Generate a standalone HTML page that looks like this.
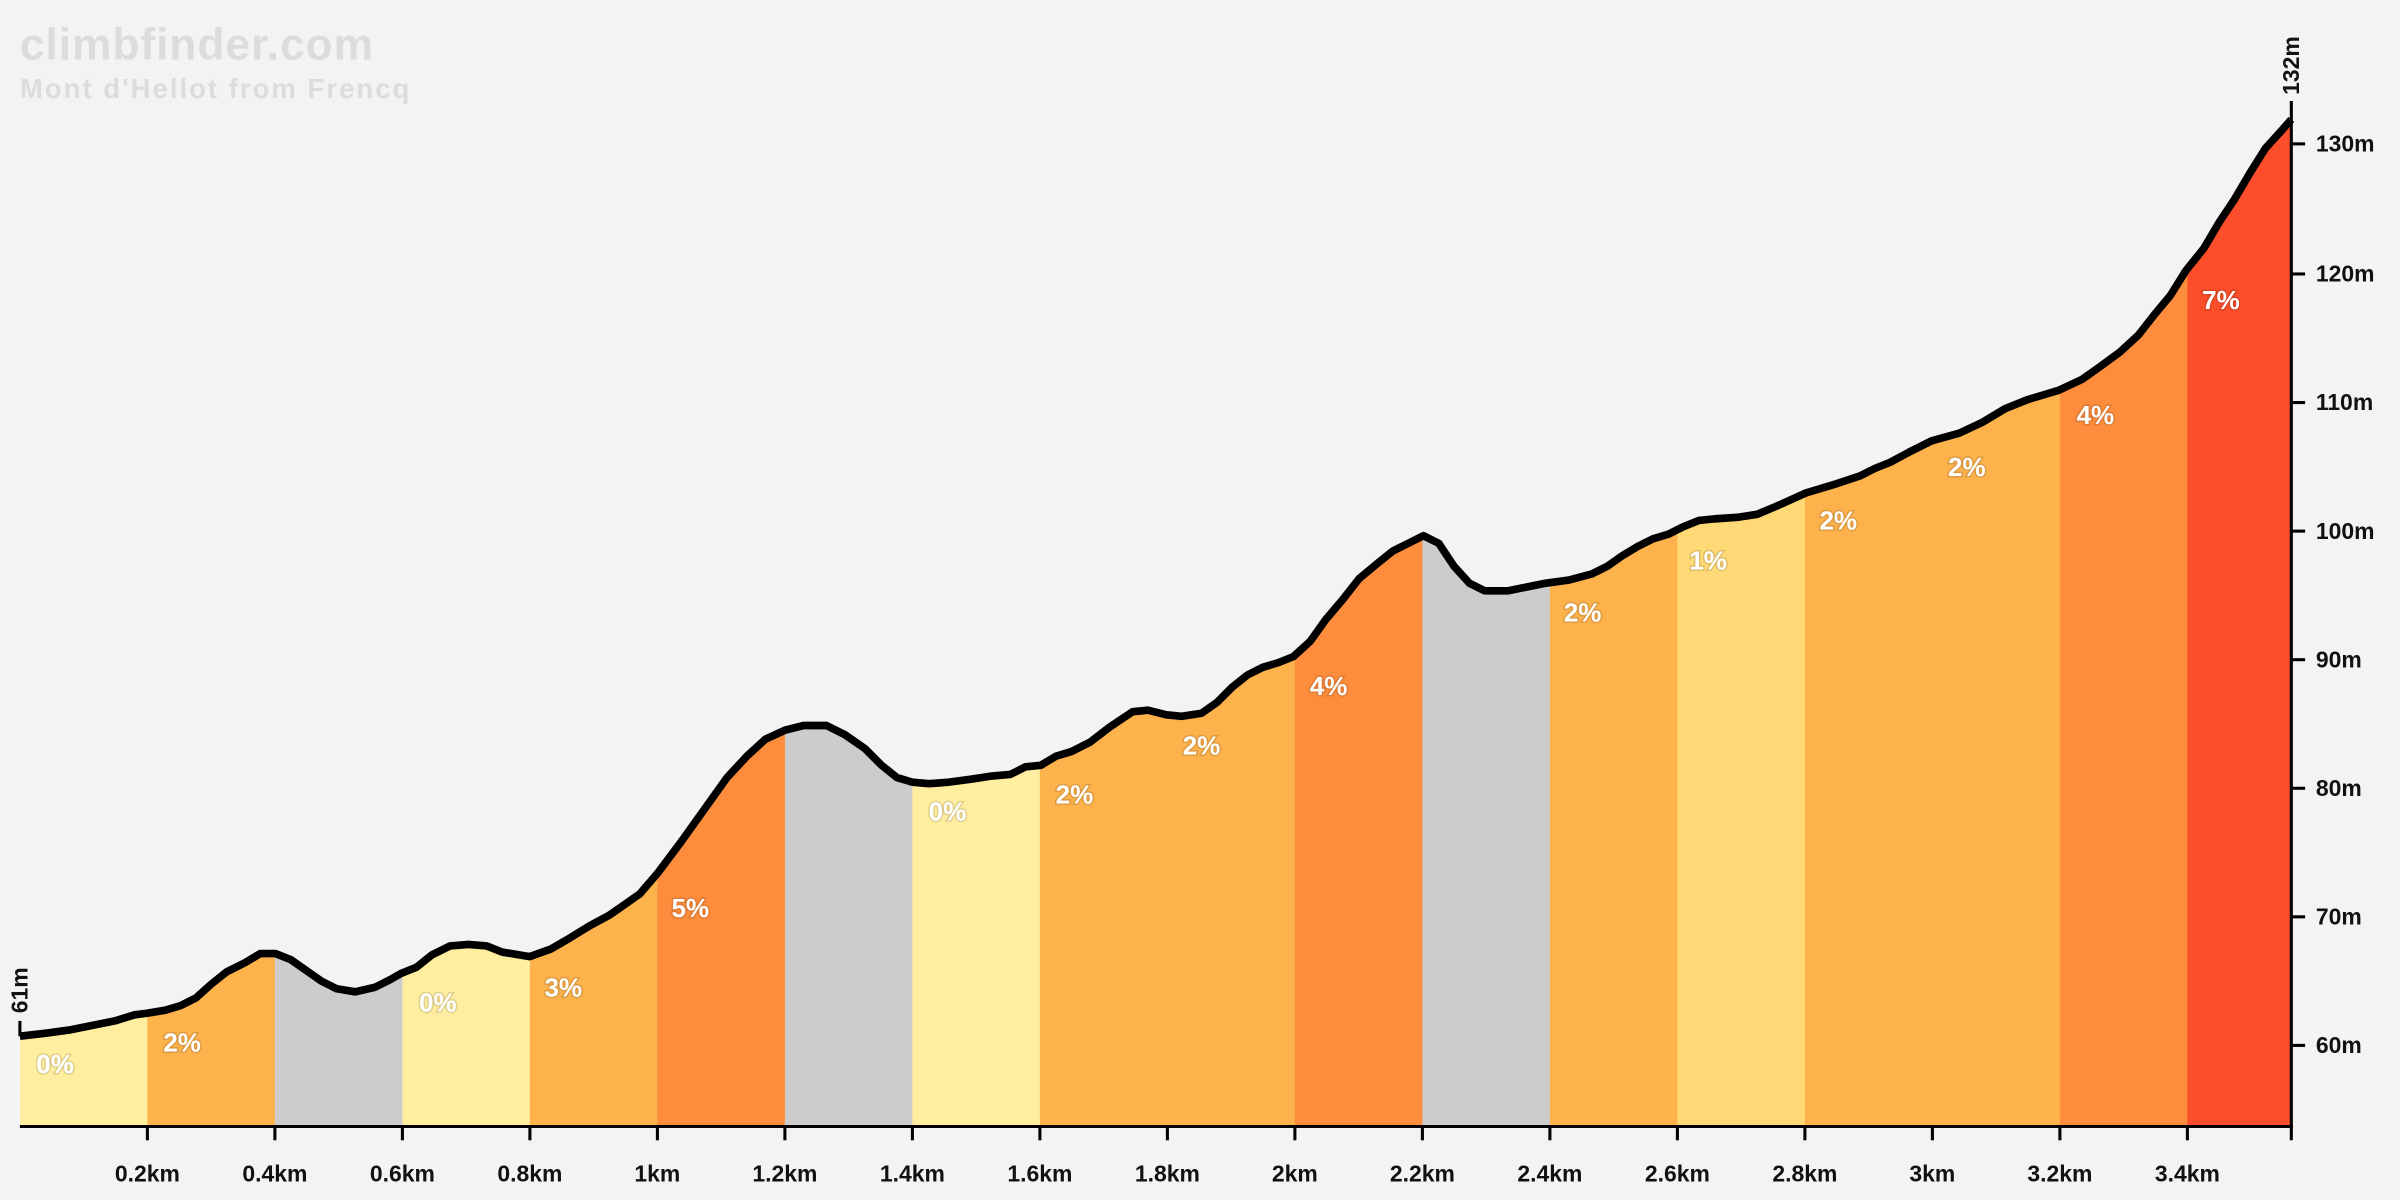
<!DOCTYPE html>
<html><head><meta charset="utf-8"><style>
html,body{margin:0;padding:0;background:#f3f3f3;}
svg{display:block;}
text{font-family:"Liberation Sans","DejaVu Sans",sans-serif;font-weight:bold;}
.p{fill:#fff;font-size:17px;text-anchor:middle;paint-order:stroke;stroke:rgba(0,0,0,0.12);stroke-width:2px;}
.yl{font-size:15px;fill:#111;}
.xl{font-size:15px;fill:#111;text-anchor:middle;}
</style></head><body>
<svg width="2400" height="1200" viewBox="0 0 1568 784" xmlns="http://www.w3.org/2000/svg">
<rect width="1568" height="784" fill="#f3f3f3"/>
<text x="13" y="39" font-size="29" letter-spacing="0.6" fill="#dcdcdc">climbfinder.com</text>
<text x="13" y="64" font-size="18" letter-spacing="1.3" fill="#dcdcdc">Mont d'Hellot from Frencq</text>
<defs><clipPath id="c"><polygon points="13,736 13,677 30,675 45,673 60,670 75,667 88,663 96,662 108,660 118,657 128,652 138,643 148,635 160,629 170,623 180,623 190,627 200,634 210,641 220,646 232,648 245,645 255,640 262,636 272,632 282,624 294,618 306,617 318,618 328,622 346,625 360,620 372,613 385,605 398,598 408,591 418,584 430,570 445,550 460,529 475,508 488,494 500,483 513,477 525,474 540,474 552,480 565,489 576,500 586,508 596,511 607,512 620,511 635,509 648,507 660,506 670,501 680,500 690,494 700,491 712,485 725,475 740,465 750,464 762,467 772,468 785,466 795,459 805,449 815,441 825,436 835,433 845,429 856,419 866,405 877,392 888,378 900,368 910,360 920,355 930,350 940,355 950,370 960,381 970,386 985,386 995,384 1010,381 1025,379 1040,375 1050,370 1060,363 1070,357 1080,352 1090,349 1100,344 1110,340 1120,339 1135,338 1148,336 1160,331 1180,322 1200,316 1215,311 1225,306 1235,302 1248,295 1262,288 1280,283 1295,276 1310,267 1325,261 1345,255 1360,248 1370,241 1385,230 1397,219 1408,205 1418,193 1428,177 1440,162 1450,145 1460,130 1470,113 1480,97 1490,86 1497,78 1497,736"/></clipPath></defs>
<g clip-path="url(#c)">
<rect x="13" y="0" width="84" height="736" fill="#FFEDA0"/>
<rect x="96.3" y="0" width="84" height="736" fill="#FDB24C"/>
<rect x="179.6" y="0" width="84" height="736" fill="#CCCCCC"/>
<rect x="262.9" y="0" width="84" height="736" fill="#FFEDA0"/>
<rect x="346.2" y="0" width="84" height="736" fill="#FDB24C"/>
<rect x="429.5" y="0" width="84" height="736" fill="#FD8D3C"/>
<rect x="512.8" y="0" width="84" height="736" fill="#CCCCCC"/>
<rect x="596.1" y="0" width="84" height="736" fill="#FFEDA0"/>
<rect x="679.4" y="0" width="167" height="736" fill="#FDB24C"/>
<rect x="846" y="0" width="84" height="736" fill="#FD8D3C"/>
<rect x="929.3" y="0" width="84" height="736" fill="#CCCCCC"/>
<rect x="1012.6" y="0" width="84" height="736" fill="#FDB24C"/>
<rect x="1095.9" y="0" width="84" height="736" fill="#FED976"/>
<rect x="1179.2" y="0" width="167" height="736" fill="#FDB24C"/>
<rect x="1345.8" y="0" width="84" height="736" fill="#FD8D3C"/>
<rect x="1429.1" y="0" width="70" height="736" fill="#FC4E2A"/>
</g>
<polyline fill="none" stroke="#000" stroke-width="5" stroke-linejoin="round" points="13,677 30,675 45,673 60,670 75,667 88,663 96,662 108,660 118,657 128,652 138,643 148,635 160,629 170,623 180,623 190,627 200,634 210,641 220,646 232,648 245,645 255,640 262,636 272,632 282,624 294,618 306,617 318,618 328,622 346,625 360,620 372,613 385,605 398,598 408,591 418,584 430,570 445,550 460,529 475,508 488,494 500,483 513,477 525,474 540,474 552,480 565,489 576,500 586,508 596,511 607,512 620,511 635,509 648,507 660,506 670,501 680,500 690,494 700,491 712,485 725,475 740,465 750,464 762,467 772,468 785,466 795,459 805,449 815,441 825,436 835,433 845,429 856,419 866,405 877,392 888,378 900,368 910,360 920,355 930,350 940,355 950,370 960,381 970,386 985,386 995,384 1010,381 1025,379 1040,375 1050,370 1060,363 1070,357 1080,352 1090,349 1100,344 1110,340 1120,339 1135,338 1148,336 1160,331 1180,322 1200,316 1215,311 1225,306 1235,302 1248,295 1262,288 1280,283 1295,276 1310,267 1325,261 1345,255 1360,248 1370,241 1385,230 1397,219 1408,205 1418,193 1428,177 1440,162 1450,145 1460,130 1470,113 1480,97 1490,86 1497,78"/>
<g class="p">
<text x="36" y="701">0%</text><text x="119" y="687">2%</text><text x="286" y="661">0%</text><text x="368" y="651">3%</text><text x="451" y="599">5%</text><text x="619" y="536">0%</text><text x="702" y="525">2%</text><text x="785" y="493">2%</text><text x="868" y="454">4%</text><text x="1034" y="406">2%</text><text x="1116" y="372">1%</text><text x="1201" y="346">2%</text><text x="1285" y="311">2%</text><text x="1369" y="277">4%</text><text x="1451" y="202">7%</text>
</g>
<g stroke="#000" stroke-width="2">
<line x1="13" y1="736" x2="1498" y2="736"/>
<line x1="1497" y1="66" x2="1497" y2="745"/>
<line x1="13" y1="667" x2="13" y2="677"/>
<line x1="96.3" y1="736" x2="96.3" y2="745"/><line x1="179.6" y1="736" x2="179.6" y2="745"/><line x1="262.9" y1="736" x2="262.9" y2="745"/><line x1="346.2" y1="736" x2="346.2" y2="745"/><line x1="429.5" y1="736" x2="429.5" y2="745"/><line x1="512.8" y1="736" x2="512.8" y2="745"/><line x1="596.1" y1="736" x2="596.1" y2="745"/><line x1="679.4" y1="736" x2="679.4" y2="745"/><line x1="762.7" y1="736" x2="762.7" y2="745"/><line x1="846" y1="736" x2="846" y2="745"/><line x1="929.3" y1="736" x2="929.3" y2="745"/><line x1="1012.6" y1="736" x2="1012.6" y2="745"/><line x1="1095.9" y1="736" x2="1095.9" y2="745"/><line x1="1179.2" y1="736" x2="1179.2" y2="745"/><line x1="1262.5" y1="736" x2="1262.5" y2="745"/><line x1="1345.8" y1="736" x2="1345.8" y2="745"/><line x1="1429.1" y1="736" x2="1429.1" y2="745"/>
<line x1="1497" y1="683" x2="1506" y2="683"/><line x1="1497" y1="599" x2="1506" y2="599"/><line x1="1497" y1="515" x2="1506" y2="515"/><line x1="1497" y1="431" x2="1506" y2="431"/><line x1="1497" y1="347" x2="1506" y2="347"/><line x1="1497" y1="263" x2="1506" y2="263"/><line x1="1497" y1="179" x2="1506" y2="179"/><line x1="1497" y1="94" x2="1506" y2="94"/>
</g>
<g class="xl">
<text x="96.3" y="772">0.2km</text><text x="179.6" y="772">0.4km</text><text x="262.9" y="772">0.6km</text><text x="346.2" y="772">0.8km</text><text x="429.5" y="772">1km</text><text x="512.8" y="772">1.2km</text><text x="596.1" y="772">1.4km</text><text x="679.4" y="772">1.6km</text><text x="762.7" y="772">1.8km</text><text x="846" y="772">2km</text><text x="929.3" y="772">2.2km</text><text x="1012.6" y="772">2.4km</text><text x="1095.9" y="772">2.6km</text><text x="1179.2" y="772">2.8km</text><text x="1262.5" y="772">3km</text><text x="1345.8" y="772">3.2km</text><text x="1429.1" y="772">3.4km</text>
</g>
<g class="yl">
<text x="1513" y="688">60m</text><text x="1513" y="604">70m</text><text x="1513" y="520">80m</text><text x="1513" y="436">90m</text><text x="1513" y="352">100m</text><text x="1513" y="268">110m</text><text x="1513" y="184">120m</text><text x="1513" y="99">130m</text>
</g>
<text class="yl" transform="translate(18,662) rotate(-90)">61m</text>
<text class="yl" transform="translate(1502,62) rotate(-90)">132m</text>
</svg>
</body></html>
